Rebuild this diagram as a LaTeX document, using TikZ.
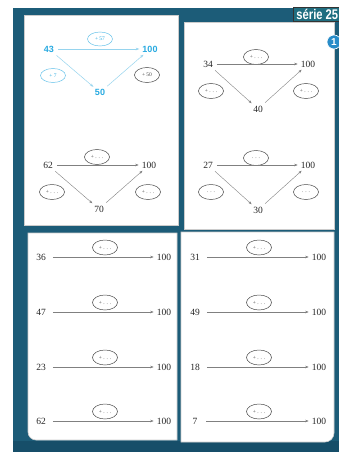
\documentclass[tikz,border=0pt]{standalone}
\usepackage{fontspec}
\setmainfont{Liberation Serif}
\newfontfamily\headfont{Liberation Sans}[FakeStretch=0.8]
\newfontfamily\numsans{Liberation Sans}
\usetikzlibrary{arrows.meta,shapes.geometric}
\definecolor{bgblue}{RGB}{28,92,120}
\definecolor{bgdark}{RGB}{18,66,92}
\definecolor{cyantext}{RGB}{40,170,225}
\definecolor{cyanline}{RGB}{150,212,238}
\definecolor{headbox}{RGB}{32,110,128}
\definecolor{circblue}{RGB}{40,140,200}
\tikzset{
  panel/.style={fill=white,draw=gray!40,line width=0.6pt},
  num/.style={font=\fontsize{9.5}{10}\selectfont,text=black!85,inner sep=1pt},
  cnum/.style={font=\numsans\bfseries\fontsize{9}{10}\selectfont,text=cyantext,inner sep=1pt},
  oval/.style={ellipse,draw=black!70,line width=0.5pt,minimum width=25pt,minimum height=15pt,inner sep=0pt,font=\fontsize{5.5}{6}\selectfont,text=black!70},
  coval/.style={ellipse,draw=cyantext!70,line width=0.5pt,minimum width=25pt,minimum height=14pt,inner sep=0pt,font=\fontsize{5.5}{6}\selectfont,text=cyantext},
  arr/.style={-{Stealth[length=3.5pt,width=2.5pt]},draw=black!50,line width=0.4pt,shorten >=2pt,shorten <=3pt},
  carr/.style={-{Stealth[length=3.5pt,width=2.5pt]},draw=cyanline,line width=0.5pt,shorten >=2pt,shorten <=3pt}
}
\begin{document}
\begin{tikzpicture}[x=1pt,y=-1pt]
\useasboundingbox (0,0) rectangle (339,452);
\fill[white] (0,0) rectangle (339,452);
\fill[bgblue] (13,8) rectangle (339,452);
\fill[bgdark,opacity=0.5] (13,441) rectangle (339,452);
% panels
\draw[panel] (24,15) rectangle (178,225);
\draw[panel] (184,22) rectangle (334,229);
\draw[panel] (28,233) -- (177,233) -- (177,440) -- (36,440) arc[start angle=90,end angle=180,radius=8] -- cycle;
\draw[panel] (181,232) -- (334,232) -- (334,433) arc[start angle=0,end angle=90,radius=9] -- (181,442) -- cycle;
% header
\node[fill=headbox,draw=black!80,line width=0.9pt,text=white,font=\headfont\bfseries\fontsize{14}{15}\selectfont,inner xsep=3pt,inner ysep=2pt,anchor=north west] (head) at (293,7) {série 25};
\node[circle,fill=circblue,draw=white,line width=0.6pt,text=white,font=\numsans\bfseries\fontsize{10}{11}\selectfont,minimum size=14pt,inner sep=0pt] (one) at (334,42) {1};
% panel 1 top (solved example)
\node[cnum] (a1) at (49,49) {43};
\node[cnum] (a2) at (150,49) {100};
\node[cnum] (a3) at (100,92.5) {50};
\node[coval] (ao1) at (100,39) {+ 57};
\node[coval] (ao2) at (53,75.5) {+ 7};
\node[oval] (ao3) at (147,75) {+ 50};
\draw[carr] (a1) -- (a2);
\draw[carr] (a1) -- (a3);
\draw[carr] (a3) -- (a2);
% panel 1 bottom
\node[num] (b1) at (48,165) {62};
\node[num] (b2) at (149,165) {100};
\node[num] (b3) at (99,209) {70};
\node[oval] (bo1) at (97,157) {+ . . .};
\node[oval] (bo2) at (52,192) {+ . . .};
\node[oval] (bo3) at (148,192) {+ . . .};
\draw[arr] (b1) -- (b2);
\draw[arr] (b1) -- (b3);
\draw[arr] (b3) -- (b2);
% panel 2 top
\node[num] (c1) at (208,64) {34};
\node[num] (c2) at (308,64) {100};
\node[num] (c3) at (258,109) {40};
\node[oval] (co1) at (256,57) {+ . . .};
\node[oval] (co2) at (211,91) {+ . . .};
\node[oval] (co3) at (306,91) {+ . . .};
\draw[arr] (c1) -- (c2);
\draw[arr] (c1) -- (c3);
\draw[arr] (c3) -- (c2);
% panel 2 bottom
\node[num] (d1) at (208,165) {27};
\node[num] (d2) at (308,165) {100};
\node[num] (d3) at (258,210) {30};
\node[oval] (do1) at (256,158) {. . .};
\node[oval] (do2) at (211,192) {. . .};
\node[oval] (do3) at (306,192) {. . .};
\draw[arr] (d1) -- (d2);
\draw[arr] (d1) -- (d3);
\draw[arr] (d3) -- (d2);
% panel 3
\foreach \n/\v/\y in {e1/36/257, e2/47/312, e3/23/367, e4/62/421}{
  \node[num] (\n s) at (41,\y) {\v};
  \node[num] (\n t) at (164,\y) {100};
  \node[oval] (\n o) at (105,\y-9.5) {+ . . .};
  \draw[arr,shorten <=6pt] (\n s) -- (\n t);
}
% panel 4
\foreach \n/\v/\y in {f1/31/257, f2/49/312, f3/18/367, f4/7/421}{
  \node[num,minimum width=10pt] (\n s) at (195,\y) {\v};
  \node[num] (\n t) at (319,\y) {100};
  \node[oval] (\n o) at (259,\y-9.5) {+ . . .};
  \draw[arr,shorten <=6pt] (\n s) -- (\n t);
}
\end{tikzpicture}
\end{document}
